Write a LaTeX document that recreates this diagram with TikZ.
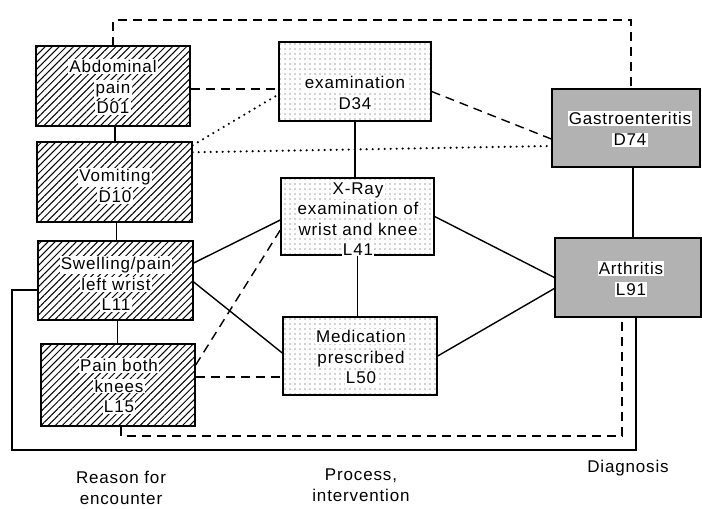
\documentclass[tikz,border=0pt]{standalone}
\usepackage{fontspec}
\setmainfont{Liberation Sans}[LetterSpace=5]
\usetikzlibrary{patterns.meta}
\newcommand{\wl}[1]{{\setlength{\fboxsep}{1.2pt}\colorbox{white}{#1}}}
\begin{document}
\begin{tikzpicture}[x=1pt,y=-1pt,
  every node/.style={font=\fontsize{17}{20.5}\selectfont, align=center, inner sep=0pt},
  hbox/.style={draw, line width=1.4pt, rectangle,
    pattern={Lines[angle=45,distance=5pt,line width=1pt]}},
  dbox/.style={draw, line width=1.4pt, rectangle,
    pattern={Dots[distance=5pt,radius=0.7pt]}, pattern color=black!75},
  gbox/.style={draw, line width=1.4pt, rectangle, fill=black!30},
  txt/.style={},
  conn/.style={line width=1.4pt},
  dsh/.style={line width=1.4pt, dash pattern=on 9pt off 6pt},
  dot/.style={line width=2.4pt, line cap=round, dash pattern=on 0pt off 6pt}]
\useasboundingbox (0,0) rectangle (702,509);
% boxes
\node[hbox, minimum width=154, minimum height=80] (d01) at (113,86) {};
\node[txt] (d01t) at (113,87) {\wl{Abdominal}\\\wl{pain}\\\wl{D01}};
\node[hbox, minimum width=155, minimum height=80] (d10) at (114.5,182) {};
\node[txt] (d10t) at (115,186) {\wl{Vomiting}\\\wl{D10}};
\node[hbox, minimum width=155, minimum height=79] (l11) at (115.5,280.5) {};
\node[txt] (l11t) at (116,284) {\wl{Swelling/pain}\\\wl{left wrist}\\\wl{L11}};
\node[hbox, minimum width=154, minimum height=82] (l15) at (118,385) {};
\node[txt] (l15t) at (119,386) {\wl{Pain both}\\\wl{knees}\\\wl{L15}};
\node[dbox, minimum width=152, minimum height=79] (d34) at (355,81.5) {};
\node[txt] (d34t) at (355,93) {\wl{examination}\\\wl{D34}};
\node[dbox, minimum width=153, minimum height=77] (l41) at (357.5,216.5) {};
\node[txt] (l41t) at (358,219) {\wl{X-Ray}\\\wl{examination of}\\\wl{wrist and knee}\\\wl{L41}};
\node[dbox, minimum width=154, minimum height=78] (l50) at (360,356) {};
\node[txt] (l50t) at (361,357) {\wl{Medication}\\\wl{prescribed}\\\wl{L50}};
\node[gbox, minimum width=148, minimum height=78] (d74) at (626,128) {};
\node[txt] (d74t) at (630,129) {\wl{Gastroenteritis}\\\wl{D74}};
\node[gbox, minimum width=146, minimum height=79] (l91) at (628,277.5) {};
\node[txt] (l91t) at (631,279) {\wl{Arthritis}\\\wl{L91}};
% column labels
\node (lab1) at (121,488) {Reason for\\encounter};
\node (lab2) at (361,485) {Process,\\intervention};
\node (lab3) at (628,468) {Diagnosis};
% coordinates for free corners
\coordinate (top) at (0,20);
\coordinate (bdr) at (622,436);
\coordinate (sl) at (12,450);
\coordinate (sr) at (636,450);
% vertical solid links
\draw[conn] ([xshift=2]d01.south) -- ([xshift=2]d01.south |- d10.north);
\draw[conn] ([xshift=2]d10.south) -- ([xshift=2]d10.south |- l11.north);
\draw[conn] ([xshift=2]l11.south) -- ([xshift=2]l11.south |- l15.north);
\draw[conn] (d34.south) -- (d34.south |- l41.north);
\draw[conn] (l41.south) -- (l41.south |- l50.north);
\draw[conn] ([xshift=7]d74.south) -- ([xshift=7]d74.south |- l91.north);
% slanted solid links
\draw[conn] ([yshift=17.5]l11.east) -- ([yshift=-3.5]l41.west);
\draw[conn] ([yshift=-1.5]l11.east) -- ([yshift=3]l50.west);
\draw[conn] (l41.east) -- (l91.west);
\draw[conn] (l50.east) -- ([yshift=-11]l91.west);
% dashed links
\draw[dsh] (d01.north) -- (d01.north |- top) -| ([xshift=5]d74.north);
\draw[dsh] ([yshift=-3]d01.east) -- ([yshift=-3]d01.east -| d34.west);
\draw[dsh] ([yshift=-10]d34.east) -- ([yshift=-11]d74.west);
\draw[dsh] ([yshift=20]l15.east) -- ([yshift=-13.5]l41.west);
\draw[dsh] ([yshift=8]l15.east) -- ([yshift=8]l15.east -| l50.west);
\draw[dsh] ([xshift=3]l15.south) |- (bdr) -- (bdr |- l91.south);
% dotted links
\draw[dot] ([yshift=-4]d10.north east) -- ([yshift=-13]d34.west);
\draw[dot] ([yshift=-11]d10.north east) -- ([yshift=-18]d74.west);
% solid loop
\draw[conn] ([yshift=-9.5]l11.west) -| (sl) -- (sr) -- (sr |- l91.south);
\end{tikzpicture}
\end{document}
